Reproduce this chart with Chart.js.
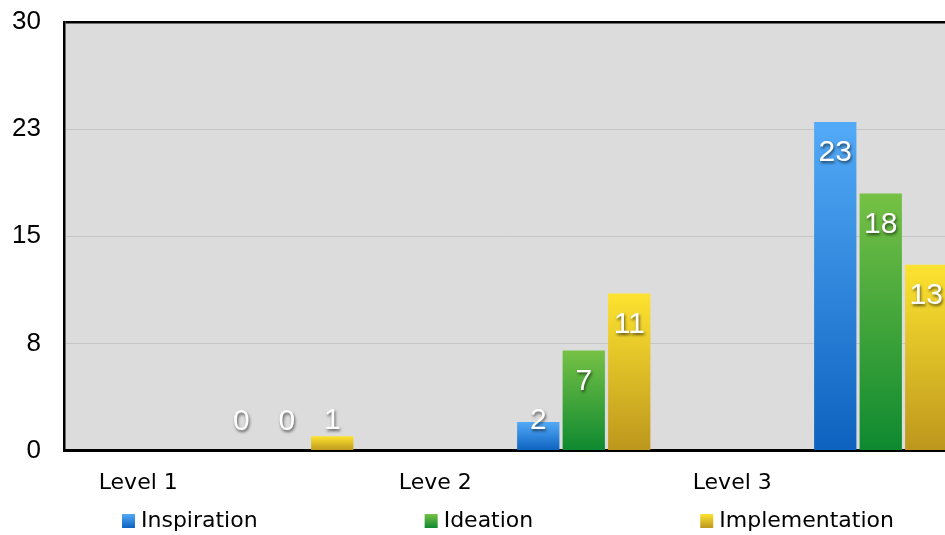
<!DOCTYPE html>
<html lang="en">
  <head>
    <meta charset="UTF-8" />
    <meta name="viewport" content="width=device-width, initial-scale=1.0" />
    <title>Levels</title>
    <style>
      body { margin: 0; overflow: hidden; background: #fff; }
      #wrap { width: 955px; height: 535px; }
    </style>
  </head>
  <body>
    <div id="wrap"><canvas id="myChart"></canvas></div>
    <script src="https://cdn.jsdelivr.net/npm/chart.js@4/dist/chart.umd.min.js"></script>
    <script>
      const levels = ["Level 1", "Leve 2", "Level 3"];
      const inspiration = [0, 2, 23];
      const ideation = [0, 7, 18];
      const implementation = [1, 11, 13];
      const yMax = 30;
      const yStep = 7.5;

      // top / bottom gradient stops for each series
      const fills = [
        ["#53aaf7", "#0d62bf"],
        ["#76c145", "#0e8930"],
        ["#fde330", "#bd971d"],
      ];

      // each level gets a blank slot before its bars, label sits over the blank
      const labels = levels.flatMap((l) => [l, ""]);
      const spread = (values) => values.flatMap((v) => [null, v]);

      function barFill(i) {
        return (c) => {
          const chart = c.chart;
          const v = c.parsed ? c.parsed.y : null;
          if (!chart.chartArea || v == null || isNaN(v)) return fills[i][1];
          const y = chart.scales.y;
          const g = chart.ctx.createLinearGradient(0, y.getPixelForValue(v), 0, y.getPixelForValue(0));
          g.addColorStop(0, fills[i][0]);
          g.addColorStop(1, fills[i][1]);
          return g;
        };
      }

      const plotBg = {
        id: "plotBg",
        beforeDraw(chart) {
          const a = chart.chartArea;
          chart.ctx.save();
          chart.ctx.fillStyle = "#dcdcdc";
          chart.ctx.fillRect(a.left, a.top, a.right - a.left, a.bottom - a.top);
          chart.ctx.restore();
        },
      };

      const valueLabels = {
        id: "valueLabels",
        afterDatasetsDraw(chart) {
          const ctx = chart.ctx;
          ctx.save();
          ctx.font = '30px "Liberation Sans", Arial';
          ctx.textAlign = "center";
          ctx.textBaseline = "middle";
          ctx.fillStyle = "#fff";
          ctx.shadowColor = "rgba(0,0,0,0.6)";
          ctx.shadowOffsetX = 1;
          ctx.shadowOffsetY = 2;
          ctx.shadowBlur = 3;
          chart.data.datasets.forEach((ds, i) => {
            chart.getDatasetMeta(i).data.forEach((bar, j) => {
              const v = ds.data[j];
              if (v == null) return;
              const y = Math.min(bar.y + 31, bar.base - 29);
              ctx.fillText(String(v), bar.x, y);
            });
          });
          ctx.restore();
        },
      };

      const legendRow = {
        id: "legendRow",
        afterDraw(chart) {
          const ctx = chart.ctx;
          const y = 521;
          let x = 122;
          ctx.save();
          ctx.font = '22px "DejaVu Sans"';
          ctx.textBaseline = "middle";
          chart.data.datasets.forEach((ds, i) => {
            const g = ctx.createLinearGradient(0, y - 7, 0, y + 7);
            g.addColorStop(0, fills[i][0]);
            g.addColorStop(1, fills[i][1]);
            ctx.fillStyle = g;
            ctx.fillRect(x, y - 7, 13, 14);
            ctx.fillStyle = "#000";
            ctx.fillText(ds.label, x + 19, y);
            x += 19 + ctx.measureText(ds.label).width + 167;
          });
          ctx.restore();
        },
      };

      new Chart("myChart", {
        type: "bar",
        data: {
          labels: labels,
          datasets: [
            { label: "Inspiration", data: spread(inspiration), backgroundColor: barFill(0) },
            { label: "Ideation", data: spread(ideation), backgroundColor: barFill(1) },
            { label: "Implementation", data: spread(implementation), backgroundColor: barFill(2) },
          ],
        },
        options: {
          responsive: true,
          maintainAspectRatio: false,
          animation: false,
          categoryPercentage: 0.919,
          barPercentage: 0.93,
          layout: { padding: { top: 22, bottom: 20, left: 0, right: 0 } },
          plugins: {
            legend: { display: false },
            tooltip: { enabled: false },
          },
          scales: {
            x: {
              grid: { display: false, drawTicks: false },
              border: { color: "#000", width: 3 },
              ticks: {
                color: "#000",
                font: { family: "DejaVu Sans", size: 22 },
                padding: 19,
                autoSkip: false,
                maxRotation: 0,
              },
            },
            y: {
              min: 0,
              max: yMax,
              afterFit: (s) => {
                s.width = 64;
                s.paddingTop = 0;
                s.paddingBottom = 0;
              },
              ticks: {
                stepSize: yStep,
                callback: (v) => Math.round(v),
                color: "#000",
                font: { family: "Liberation Sans", size: 26 },
                padding: 23,
              },
              grid: {
                drawTicks: false,
                color: (c) => (c.tick && c.tick.value === yMax ? "#000" : "#c6c6c6"),
                lineWidth: (c) => (c.tick && c.tick.value === yMax ? 2.5 : 1),
              },
              border: { color: "#000", width: 2.5 },
            },
          },
        },
        plugins: [plotBg, valueLabels, legendRow],
      });
    </script>
  </body>
</html>
